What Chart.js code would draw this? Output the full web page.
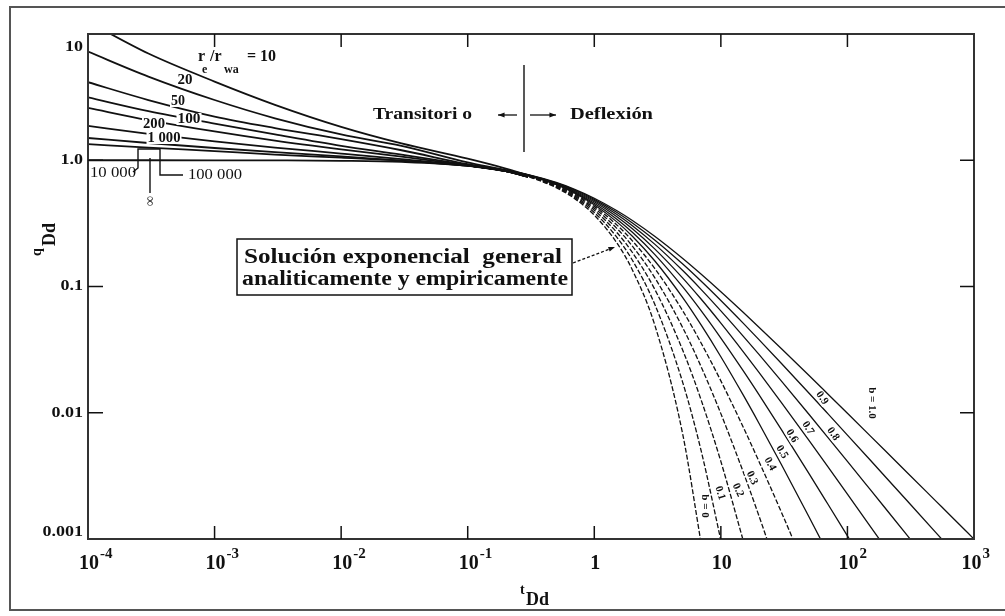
<!DOCTYPE html>
<html>
<head>
<meta charset="utf-8">
<script src="https://cdn.jsdelivr.net/npm/chart.js@4.4.1/dist/chart.umd.min.js"></script>
<style>
html, body { margin: 0; padding: 0; background: #fff; }
#wrap { width: 1005px; height: 616px; }
</style>
</head>
<body>
<div id="wrap"><canvas id="typeCurve" width="1005" height="616"></canvas></div>
<script>
// transient stems (re/rwa)
let stemTimes = [0.0001, 0.0003, 0.001, 0.003, 0.01, 0.03, 0.1, 0.2, 0.3];
let stemNames = ['10', '20', '50', '100', '200', '1 000', '10 000', '100 000', 'inf'];
let stem10 = [12.5, 7.0, 4.2, 2.75, 1.84, 1.36, 1.03, 0.86, 0.76];
let stem20 = [7.25, 4.6, 3.0, 2.15, 1.6, 1.3, 0.96, 0.83, 0.745];
let stem50 = [4.15, 3.0, 2.22, 1.8, 1.47, 1.2, 0.93, 0.822, 0.742];
let stem100 = [3.15, 2.45, 1.95, 1.6, 1.3, 1.11, 0.92, 0.82, 0.742];
let stem200 = [2.6, 2.08, 1.69, 1.43, 1.22, 1.07, 0.91, 0.82, 0.741];
let stem1000 = [1.87, 1.62, 1.41, 1.26, 1.13, 1.02, 0.905, 0.819, 0.741];
let stem10000 = [1.50, 1.37, 1.25, 1.16, 1.075, 0.995, 0.905, 0.819, 0.741];
let stem100000 = [1.34, 1.26, 1.18, 1.11, 1.048, 0.99, 0.905, 0.819, 0.741];
let stemInf = [1.0, 1.0, 0.999, 0.997, 0.99, 0.97, 0.905, 0.819, 0.741];

// depletion stems (b values)
let depletionTimes = [0.1, 0.2, 0.3, 0.5, 0.7, 1, 1.5, 2, 3, 5, 7, 10, 15, 20, 30, 50, 70, 100, 150, 200, 300, 500, 700, 1000];
let bNames = ['0', '0.1', '0.2', '0.3', '0.4', '0.5', '0.6', '0.7', '0.8', '0.9', '1.0'];
let qB00 = [0.9048, 0.8187, 0.7408, 0.6065, 0.4966, 0.3679, 0.2231, 0.1353, 0.04979, 0.006738, 0.000912];
let qB01 = [0.9053, 0.8203, 0.7441, 0.6139, 0.5084, 0.3855, 0.2472, 0.1615, 0.07254, 0.01734, 0.00496, 0.000977];
let qB02 = [0.9057, 0.8219, 0.7473, 0.6209, 0.5194, 0.4019, 0.2693, 0.1859, 0.09537, 0.03125, 0.01256, 0.004115, 0.000977];
let qB03 = [0.9062, 0.8235, 0.7503, 0.6276, 0.5297, 0.4171, 0.2898, 0.2088, 0.1177, 0.04715, 0.02302, 0.009842, 0.003407, 0.001524, 0.000464];
let qB04 = [0.9066, 0.8250, 0.7533, 0.6339, 0.5395, 0.4312, 0.3088, 0.2300, 0.1393, 0.06415, 0.03551, 0.01789, 0.007715, 0.004117, 0.001641, 0.000494];
let qB05 = [0.9070, 0.8264, 0.7561, 0.64, 0.5487, 0.4444, 0.3265, 0.25, 0.16, 0.08163, 0.04938, 0.02778, 0.01384, 0.008264, 0.003906, 0.001479, 0.000772];
let qB06 = [0.9074, 0.8279, 0.7589, 0.6458, 0.5574, 0.4569, 0.3431, 0.2687, 0.1798, 0.09921, 0.06407, 0.03903, 0.02154, 0.01391, 0.007393, 0.00327, 0.001894, 0.001058, 0.000543];
let qB07 = [0.9079, 0.8293, 0.7616, 0.6513, 0.5657, 0.4686, 0.3586, 0.2863, 0.1986, 0.1166, 0.07923, 0.05127, 0.03053, 0.02089, 0.01209, 0.005978, 0.003739, 0.002267, 0.001279, 0.00085];
let qB08 = [0.9083, 0.8307, 0.7642, 0.6567, 0.5736, 0.4796, 0.3732, 0.3029, 0.2166, 0.1337, 0.09454, 0.06415, 0.0405, 0.02897, 0.01789, 0.009637, 0.006384, 0.004117, 0.002492, 0.001744, 0.001053, 0.000557];
let qB09 = [0.9087, 0.832, 0.7668, 0.6618, 0.5811, 0.4901, 0.387, 0.3185, 0.2337, 0.1505, 0.1099, 0.07742, 0.05124, 0.03796, 0.02467, 0.01421, 0.009842, 0.006656, 0.004261, 0.003101, 0.00198, 0.001124, 0.000773];
let qB10 = [0.9091, 0.8333, 0.7692, 0.6667, 0.5882, 0.5, 0.4, 0.3333, 0.25, 0.1667, 0.125, 0.09091, 0.0625, 0.04762, 0.03226, 0.01961, 0.01408, 0.009901, 0.006623, 0.004975, 0.003322, 0.001996, 0.001427, 0.000999];

let xDecades = [-4, -3, -2, -1, 0, 1, 2, 3];
let yTickValues = [10, 1, 0.1, 0.01, 0.001];
let yTickLabels = ['10', '1.0', '0.1', '0.01', '0.001'];

const SERIF = '"Liberation Serif", "DejaVu Serif", serif';
const INK = '#111';

let stemRates = [stem10, stem20, stem50, stem100, stem200, stem1000, stem10000, stem100000, stemInf];
let bRates = [qB00, qB01, qB02, qB03, qB04, qB05, qB06, qB07, qB08, qB09, qB10];

let datasets = [];
stemRates.forEach(function(rates, i) {
    datasets.push({
        label: 're/rwa ' + stemNames[i],
        data: rates.map(function(q, j) { return { x: stemTimes[j], y: q }; }),
        borderColor: INK,
        borderWidth: 1.8,
        pointRadius: 0,
        cubicInterpolationMode: 'monotone'
    });
});
bRates.forEach(function(rates, i) {
    datasets.push({
        label: 'b ' + bNames[i],
        data: rates.map(function(q, j) { return { x: depletionTimes[j], y: q }; }),
        borderColor: INK,
        borderWidth: 1.3,
        borderDash: i < 5 ? [5, 2] : [],
        pointRadius: 0,
        cubicInterpolationMode: 'monotone'
    });
});

function fitText(ctx, text, x, y, font, width, align) {
    ctx.save();
    ctx.font = font;
    let w = ctx.measureText(text).width;
    let k = width ? width / w : 1;
    ctx.translate(x, y);
    ctx.scale(k, 1);
    ctx.textAlign = align || 'left';
    ctx.textBaseline = 'middle';
    ctx.fillText(text, 0, 0);
    ctx.restore();
}

function arrow(ctx, x1, y1, x2, y2, dash) {
    ctx.save();
    ctx.strokeStyle = INK;
    ctx.fillStyle = INK;
    ctx.lineWidth = 1.3;
    ctx.setLineDash(dash || []);
    ctx.beginPath();
    ctx.moveTo(x1, y1);
    ctx.lineTo(x2, y2);
    ctx.stroke();
    ctx.setLineDash([]);
    let a = Math.atan2(y2 - y1, x2 - x1);
    ctx.beginPath();
    ctx.moveTo(x2, y2);
    ctx.lineTo(x2 - 7 * Math.cos(a - 0.35), y2 - 7 * Math.sin(a - 0.35));
    ctx.lineTo(x2 - 7 * Math.cos(a + 0.35), y2 - 7 * Math.sin(a + 0.35));
    ctx.closePath();
    ctx.fill();
    ctx.restore();
}

function line(ctx, pts, w) {
    ctx.save();
    ctx.strokeStyle = INK;
    ctx.lineWidth = w || 1.3;
    ctx.beginPath();
    ctx.moveTo(pts[0][0], pts[0][1]);
    for (let i = 1; i < pts.length; i++) ctx.lineTo(pts[i][0], pts[i][1]);
    ctx.stroke();
    ctx.restore();
}

const decor = {
    id: 'decor',
    beforeDraw(chart) {
        let ctx = chart.ctx;
        ctx.save();
        ctx.fillStyle = '#fff';
        ctx.fillRect(0, 0, chart.width, chart.height);
        ctx.restore();
    },
    afterDatasetsDraw(chart) {
        let ctx = chart.ctx;
        let a = chart.chartArea;
        let xs = chart.scales.x, ys = chart.scales.y;
        ctx.save();
        ctx.fillStyle = INK;

        // plot frame and inward ticks
        ctx.strokeStyle = '#333';
        ctx.lineWidth = 2;
        ctx.strokeRect(a.left, a.top, a.right - a.left, a.bottom - a.top);
        xDecades.slice(1, -1).forEach(function(e) {
            let px = xs.getPixelForValue(Math.pow(10, e));
            line(ctx, [[px, a.bottom], [px, a.bottom - 13]], 1.5);
            line(ctx, [[px, a.top], [px, a.top + 13]], 1.5);
        });
        yTickValues.slice(1, -1).forEach(function(v) {
            let py = ys.getPixelForValue(v);
            line(ctx, [[a.left, py], [a.left + 15, py]], 1.5);
            line(ctx, [[a.right, py], [a.right - 14, py]], 1.5);
        });

        // y tick labels
        yTickValues.forEach(function(v, i) {
            let py = Math.min(Math.max(ys.getPixelForValue(v), a.top + 13), a.bottom - 7);
            ctx.save();
            ctx.translate(a.left - 5, py);
            ctx.scale(1.2, 1);
            ctx.font = 'bold 15px ' + SERIF;
            ctx.textAlign = 'right';
            ctx.textBaseline = 'middle';
            ctx.fillText(yTickLabels[i], 0, 0);
            ctx.restore();
        });

        // x tick labels 10^n
        xDecades.forEach(function(e) {
            let px = xs.getPixelForValue(Math.pow(10, e));
            let base = e === 0 ? '1' : '10';
            let sup = (e === 0 || e === 1) ? '' : (e < 0 ? '-' + (-e) : String(e));
            ctx.font = 'bold 20px ' + SERIF;
            let bw = ctx.measureText(base).width;
            ctx.font = 'bold 15px ' + SERIF;
            let sw = ctx.measureText(sup).width;
            let cx = px;
            if (cx + bw / 2 + sw + 2 > 990) cx = 990 - sw - 2 - bw / 2;
            ctx.font = 'bold 20px ' + SERIF;
            ctx.textAlign = 'center';
            ctx.textBaseline = 'alphabetic';
            ctx.fillText(base, cx + 1, 569);
            if (sup) {
                ctx.font = 'bold 15px ' + SERIF;
                ctx.textAlign = 'left';
                ctx.fillText(sup, cx + bw / 2 + 2, 558);
            }
        });

        // axis titles
        ctx.textAlign = 'left';
        ctx.textBaseline = 'alphabetic';
        ctx.font = 'bold 14px ' + SERIF;
        ctx.fillText('t', 520, 594);
        ctx.font = 'bold 18px ' + SERIF;
        ctx.fillText('Dd', 526, 605);
        ctx.save();
        ctx.translate(55, 256);
        ctx.rotate(-Math.PI / 2);
        ctx.font = 'bold 14px ' + SERIF;
        ctx.fillText('q', 0, -14);
        ctx.font = 'bold 18px ' + SERIF;
        ctx.fillText('Dd', 10, 0);
        ctx.restore();

        // stem labels (white behind)
        let stemTags = [
            ['20', 185, 80, 15], ['50', 178, 101, 14], ['100', 189, 119, 23],
            ['200', 154, 124, 22], ['1 000', 164, 138, 33]
        ];
        stemTags.forEach(function(s) {
            ctx.fillStyle = '#fff';
            ctx.fillRect(s[1] - s[3] / 2 - 1, s[2] - 6, s[3] + 2, 12);
            ctx.fillStyle = INK;
            fitText(ctx, s[0], s[1], s[2], 'bold 15px ' + SERIF, s[3], 'center');
        });
        fitText(ctx, '10 000', 90, 173, '15px ' + SERIF, 46, 'left');
        fitText(ctx, '100 000', 188, 175, '15px ' + SERIF, 54, 'left');
        line(ctx, [[133, 172], [138, 168], [138, 149], [160, 149], [160, 175], [183, 175]], 1.4);
        line(ctx, [[150, 158], [150, 193]], 1.4);
        ctx.save();
        ctx.translate(150, 201);
        ctx.rotate(Math.PI / 2);
        ctx.font = 'bold 14px ' + SERIF;
        ctx.textAlign = 'center';
        ctx.textBaseline = 'middle';
        ctx.fillText('\u221E', 0, 0);
        ctx.restore();

        // re/rwa = 10
        ctx.font = 'bold 16px ' + SERIF;
        ctx.textBaseline = 'middle';
        ctx.textAlign = 'left';
        ctx.fillText('r', 198, 57);
        ctx.fillText('/r', 210, 57);
        ctx.fillText('= 10', 247, 57);
        ctx.font = 'bold 12px ' + SERIF;
        ctx.fillText('e', 202, 70);
        ctx.fillText('wa', 224, 70);

        // transient / depletion split
        fitText(ctx, 'Transitori o', 373, 115, 'bold 16px ' + SERIF, 99, 'left');
        fitText(ctx, 'Deflexi\u00f3n', 570, 115, 'bold 16px ' + SERIF, 83, 'left');
        arrow(ctx, 517, 115, 498, 115);
        arrow(ctx, 530, 115, 556, 115);
        line(ctx, [[524, 65], [524, 152]], 1.4);

        // explanation box
        ctx.fillStyle = '#fff';
        ctx.fillRect(237, 239, 335, 56);
        ctx.strokeStyle = INK;
        ctx.lineWidth = 1.5;
        ctx.strokeRect(237, 239, 335, 56);
        ctx.fillStyle = INK;
        fitText(ctx, 'Soluci\u00f3n exponencial  general', 244, 258, 'bold 20px ' + SERIF, 318, 'left');
        fitText(ctx, 'analiticamente y empiricamente', 242, 280, 'bold 20px ' + SERIF, 326, 'left');
        arrow(ctx, 573, 263, 615, 247, [3, 2]);

        // b labels along the depletion curves
        let bTags = [
            ['b = 0', 705, 506, 90], ['0.1', 720, 493, 72], ['0.2', 738, 490, 66],
            ['0.3', 752, 478, 64], ['0.4', 770, 464, 62], ['0.5', 782, 452, 60],
            ['0.6', 792, 436, 60], ['0.7', 808, 428, 58], ['0.8', 833, 434, 55],
            ['0.9', 822, 398, 55], ['b = 1.0', 872, 403, 90]
        ];
        bTags.forEach(function(s) {
            ctx.save();
            ctx.translate(s[1], s[2]);
            ctx.rotate(s[3] * Math.PI / 180);
            ctx.font = 'bold 11px ' + SERIF;
            let w = ctx.measureText(s[0]).width;
            ctx.fillStyle = '#fff';
            ctx.fillRect(-w / 2 - 1, -5, w + 2, 10);
            ctx.fillStyle = INK;
            ctx.textAlign = 'center';
            ctx.textBaseline = 'middle';
            ctx.fillText(s[0], 0, 0);
            ctx.restore();
        });

        // outer frame
        ctx.strokeStyle = '#555';
        ctx.lineWidth = 2;
        ctx.strokeRect(10, 7, 1010, 603);
        ctx.restore();
    }
};

new Chart(document.getElementById('typeCurve'), {
    type: 'line',
    data: { datasets: datasets },
    options: {
        responsive: false,
        animation: false,
        layout: { padding: { left: 0, top: 34, right: 31, bottom: 0 } },
        plugins: { legend: { display: false }, tooltip: { enabled: false } },
        scales: {
            x: {
                type: 'logarithmic',
                min: 0.0001,
                max: 1000,
                ticks: { display: false },
                grid: { display: false },
                border: { display: false },
                afterFit: function(s) { s.height = 77; }
            },
            y: {
                type: 'logarithmic',
                min: 0.001,
                max: 10,
                ticks: { display: false },
                grid: { display: false },
                border: { display: false },
                afterFit: function(s) { s.width = 88; }
            }
        }
    },
    plugins: [decor]
});
</script>
</body>
</html>
